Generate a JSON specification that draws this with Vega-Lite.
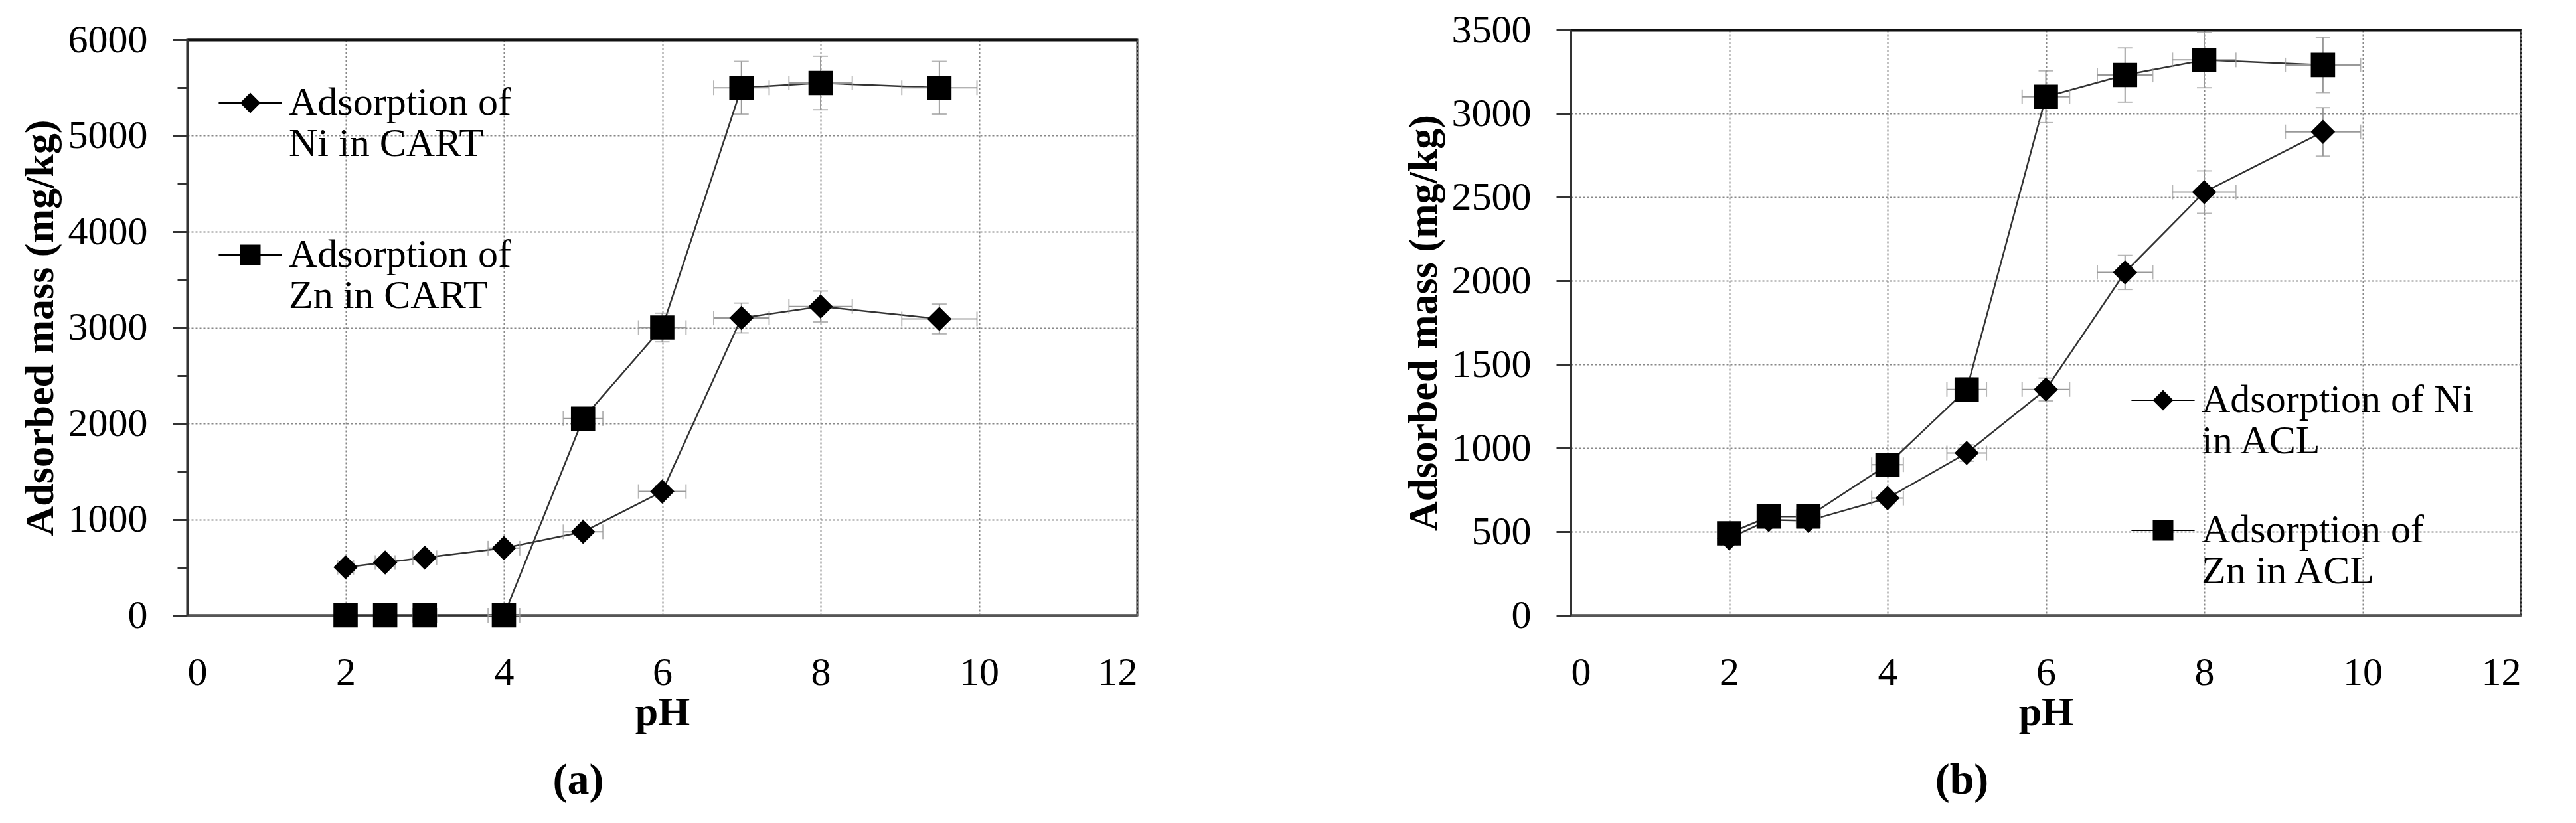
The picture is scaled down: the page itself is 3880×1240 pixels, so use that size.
{
  "$schema": "https://vega.github.io/schema/vega-lite/v6.json",
  "background": "white",
  "padding": {"left": 27, "top": 13, "right": 0, "bottom": 0},
  "spacing": 396,
  "resolve": {"scale": {"shape": "independent"}, "legend": {"shape": "independent"}},
  "config": {
    "font": "Liberation Serif",
    "view": {"stroke": "#222", "strokeWidth": 3},
    "axis": {"labelFont": "Liberation Serif", "titleFont": "Liberation Serif", "labelColor": "black", "titleColor": "black", "labelFontSize": 60, "titleFontSize": 62, "titleFontWeight": "bold"},
    "legend": {"labelFont": "Liberation Serif", "labelColor": "black"}
  },
  "datasets": {
    "a": [
      {"series": "Ni", "pH": 2, "v": 500, "vlo": 475, "vhi": 525, "plo": 1.9, "phi": 2.1},
      {"series": "Ni", "pH": 2.5, "v": 550, "vlo": 522, "vhi": 578, "plo": 2.375, "phi": 2.625},
      {"series": "Ni", "pH": 3, "v": 600, "vlo": 570, "vhi": 630, "plo": 2.85, "phi": 3.15},
      {"series": "Ni", "pH": 4, "v": 700, "vlo": 665, "vhi": 735, "plo": 3.8, "phi": 4.2},
      {"series": "Ni", "pH": 5, "v": 870, "vlo": 826, "vhi": 914, "plo": 4.75, "phi": 5.25},
      {"series": "Ni", "pH": 6, "v": 1290, "vlo": 1225, "vhi": 1355, "plo": 5.7, "phi": 6.3},
      {"series": "Ni", "pH": 7, "v": 3100, "vlo": 2945, "vhi": 3255, "plo": 6.65, "phi": 7.35},
      {"series": "Ni", "pH": 8, "v": 3220, "vlo": 3059, "vhi": 3381, "plo": 7.6, "phi": 8.4},
      {"series": "Ni", "pH": 9.5, "v": 3090, "vlo": 2935, "vhi": 3245, "plo": 9.025, "phi": 9.975},
      {"series": "Zn", "pH": 2, "v": 0, "vlo": 0, "vhi": 0, "plo": 1.9, "phi": 2.1},
      {"series": "Zn", "pH": 2.5, "v": 0, "vlo": 0, "vhi": 0, "plo": 2.375, "phi": 2.625},
      {"series": "Zn", "pH": 3, "v": 0, "vlo": 0, "vhi": 0, "plo": 2.85, "phi": 3.15},
      {"series": "Zn", "pH": 4, "v": 0, "vlo": 0, "vhi": 0, "plo": 3.8, "phi": 4.2},
      {"series": "Zn", "pH": 5, "v": 2050, "vlo": 1948, "vhi": 2152, "plo": 4.75, "phi": 5.25},
      {"series": "Zn", "pH": 6, "v": 3000, "vlo": 2850, "vhi": 3150, "plo": 5.7, "phi": 6.3},
      {"series": "Zn", "pH": 7, "v": 5500, "vlo": 5225, "vhi": 5775, "plo": 6.65, "phi": 7.35},
      {"series": "Zn", "pH": 8, "v": 5550, "vlo": 5272, "vhi": 5828, "plo": 7.6, "phi": 8.4},
      {"series": "Zn", "pH": 9.5, "v": 5500, "vlo": 5225, "vhi": 5775, "plo": 9.025, "phi": 9.975}
    ],
    "b": [
      {"series": "Ni", "pH": 2, "v": 460, "vlo": 437, "vhi": 483, "plo": 1.9, "phi": 2.1},
      {"series": "Ni", "pH": 2.5, "v": 570, "vlo": 541, "vhi": 599, "plo": 2.375, "phi": 2.625},
      {"series": "Ni", "pH": 3, "v": 565, "vlo": 537, "vhi": 593, "plo": 2.85, "phi": 3.15},
      {"series": "Ni", "pH": 4, "v": 700, "vlo": 665, "vhi": 735, "plo": 3.8, "phi": 4.2},
      {"series": "Ni", "pH": 5, "v": 970, "vlo": 921, "vhi": 1019, "plo": 4.75, "phi": 5.25},
      {"series": "Ni", "pH": 6, "v": 1350, "vlo": 1282, "vhi": 1418, "plo": 5.7, "phi": 6.3},
      {"series": "Ni", "pH": 7, "v": 2050, "vlo": 1948, "vhi": 2152, "plo": 6.65, "phi": 7.35},
      {"series": "Ni", "pH": 8, "v": 2530, "vlo": 2403, "vhi": 2657, "plo": 7.6, "phi": 8.4},
      {"series": "Ni", "pH": 9.5, "v": 2890, "vlo": 2745, "vhi": 3035, "plo": 9.025, "phi": 9.975},
      {"series": "Zn", "pH": 2, "v": 490, "vlo": 465, "vhi": 515, "plo": 1.9, "phi": 2.1},
      {"series": "Zn", "pH": 2.5, "v": 590, "vlo": 560, "vhi": 620, "plo": 2.375, "phi": 2.625},
      {"series": "Zn", "pH": 3, "v": 590, "vlo": 560, "vhi": 620, "plo": 2.85, "phi": 3.15},
      {"series": "Zn", "pH": 4, "v": 900, "vlo": 855, "vhi": 945, "plo": 3.8, "phi": 4.2},
      {"series": "Zn", "pH": 5, "v": 1350, "vlo": 1282, "vhi": 1418, "plo": 4.75, "phi": 5.25},
      {"series": "Zn", "pH": 6, "v": 3100, "vlo": 2945, "vhi": 3255, "plo": 5.7, "phi": 6.3},
      {"series": "Zn", "pH": 7, "v": 3230, "vlo": 3068, "vhi": 3392, "plo": 6.65, "phi": 7.35},
      {"series": "Zn", "pH": 8, "v": 3320, "vlo": 3154, "vhi": 3486, "plo": 7.6, "phi": 8.4},
      {"series": "Zn", "pH": 9.5, "v": 3290, "vlo": 3125, "vhi": 3455, "plo": 9.025, "phi": 9.975}
    ]
  },
  "hconcat": [
    {
      "vconcat": [
        {
          "width": 1431,
          "height": 1,
          "data": {"values": [{"k": 1}]},
          "mark": {"type": "point", "opacity": 0},
          "view": {"stroke": null}
        },
        {
          "width": 1431,
          "height": 867,
          "data": {"name": "a"},
          "title": {"text": "(a)", "orient": "bottom", "anchor": "middle", "frame": "bounds", "fontSize": 66, "fontWeight": "bold", "font": "Liberation Serif", "color": "black", "offset": 40},
          "resolve": {"axis": {"x": "independent"}},
          "layer": [
            {
              "mark": {"type": "line", "color": "#333", "strokeWidth": 2.5},
              "encoding": {
                "x": {"field": "pH", "type": "quantitative", "scale": {"domain": [0, 12], "nice": false},
                      "axis": {"orient": "top", "domain": true, "domainColor": "#111", "domainWidth": 4, "ticks": false, "labels": false, "grid": false, "title": null}},
                "y": {"field": "v", "type": "quantitative", "scale": {"domain": [0, 6000], "nice": false}, "title": "Adsorbed mass (mg/kg)"},
                "detail": {"field": "series"}
              }
            },
            {
              "mark": {"type": "errorbar", "color": "#999", "thickness": 2, "ticks": {"size": 22, "thickness": 2, "color": "#999"}},
              "encoding": {
                "x": {"field": "pH", "type": "quantitative", "scale": {"domain": [0, 12], "nice": false}, "axis": null},
                "y": {"field": "vlo", "type": "quantitative", "scale": {"domain": [0, 6000], "nice": false}, "title": "Adsorbed mass (mg/kg)"},
                "y2": {"field": "vhi"}
              }
            },
            {
              "mark": {"type": "errorbar", "color": "#999", "thickness": 2, "ticks": {"size": 22, "thickness": 2, "color": "#999"}},
              "encoding": {
                "x": {"field": "plo", "type": "quantitative", "scale": {"domain": [0, 12], "nice": false}, "axis": null},
                "x2": {"field": "phi"},
                "y": {"field": "v", "type": "quantitative", "scale": {"domain": [0, 6000], "nice": false}, "title": "Adsorbed mass (mg/kg)"}
              }
            },
            {
              "transform": [{"filter": "false"}],
              "mark": {"type": "point", "filled": true, "opacity": 1, "color": "black"},
              "encoding": {
                "x": {"field": "pH", "type": "quantitative", "scale": {"domain": [0, 12], "nice": false}, "axis": null},
                "y": {"field": "v", "type": "quantitative", "scale": {"domain": [0, 6000], "nice": false}, "title": "Adsorbed mass (mg/kg)"},
                "shape": {"field": "series", "type": "nominal",
                          "scale": {"domain": ["Ni", "Zn"], "range": ["M-3.07,-0.07H3.07V0.07H-3.07Z M0,-1L1,0L0,1L-1,0Z", "M-3.07,-0.07H3.07V0.07H-3.07Z M-1,-1H1V1H-1Z"]},
                          "legend": {"orient": "none", "legendX": 65, "legendY": 80, "title": null, "padding": 0,
                                     "symbolSize": 961, "symbolFillColor": "black", "symbolStrokeWidth": 0, "symbolOpacity": 1,
                                     "labelFontSize": 60, "labelLimit": 1000, "labelOffset": 28, "rowPadding": 107,
                                     "labelExpr": "datum.label == 'Ni' ? ['Adsorption of', 'Ni in CART'] : ['Adsorption of', 'Zn in CART']"}}
              }
            },
            {
              "transform": [{"filter": "datum.series == 'Zn'"}],
              "mark": {"type": "point", "shape": "square", "filled": true, "opacity": 1, "color": "black", "size": 1340, "strokeWidth": 0},
              "encoding": {
                "x": {"field": "pH", "type": "quantitative", "scale": {"domain": [0, 12], "nice": false}, "axis": null},
                "y": {"field": "v", "type": "quantitative", "scale": {"domain": [0, 6000], "nice": false}, "title": "Adsorbed mass (mg/kg)"}
              }
            },
            {
              "transform": [{"filter": "datum.series == 'Ni'"}],
              "mark": {"type": "point", "shape": "diamond", "filled": true, "opacity": 1, "color": "black", "size": 1340, "strokeWidth": 0},
              "encoding": {
                "x": {"field": "pH", "type": "quantitative", "scale": {"domain": [0, 12], "nice": false},
                      "axis": {"orient": "bottom", "values": [0, 2, 4, 6, 8, 10, 12], "grid": true, "gridDash": [3, 3], "gridColor": "#888", "gridWidth": 2, "domainColor": "#555", "domainWidth": 4, "ticks": false, "labelPadding": 57, "title": "pH", "titlePadding": 0}},
                "y": {"field": "v", "type": "quantitative", "scale": {"domain": [0, 6000], "nice": false}, "title": "Adsorbed mass (mg/kg)",
                      "axis": {"values": [0, 500, 1000, 1500, 2000, 2500, 3000, 3500, 4000, 4500, 5000, 5500, 6000],
                               "format": "d",
                               "labelExpr": "datum.value % 1000 === 0 ? datum.label : ''",
                               "grid": true, "gridDash": [3, 3], "gridColor": "#888", "gridWidth": 2,
                               "gridOpacity": {"condition": {"test": "datum.value % 1000 === 0", "value": 1}, "value": 0},
                               "tickSize": {"condition": {"test": "datum.value % 1000 === 0", "value": 22}, "value": 15},
                               "tickWidth": 3, "tickColor": "#333",
                               "domainColor": "#333", "domainWidth": 3, "labelPadding": 38, "titlePadding": 10}}
              }
            }
          ]
        }
      ],
      "spacing": 14,
      "bounds": "flush"
    },
    {
      "width": 1431,
      "height": 882,
      "data": {"name": "b"},
      "title": {"text": "(b)", "orient": "bottom", "anchor": "middle", "frame": "bounds", "fontSize": 66, "fontWeight": "bold", "font": "Liberation Serif", "color": "black", "offset": 40},
      "resolve": {"axis": {"x": "independent"}},
      "layer": [
        {
          "mark": {"type": "line", "color": "#333", "strokeWidth": 2.5},
          "encoding": {
            "x": {"field": "pH", "type": "quantitative", "scale": {"domain": [0, 12], "nice": false},
                  "axis": {"orient": "top", "domain": true, "domainColor": "#111", "domainWidth": 4, "ticks": false, "labels": false, "grid": false, "title": null}},
            "y": {"field": "v", "type": "quantitative", "scale": {"domain": [0, 3500], "nice": false}, "title": "Adsorbed mass (mg/kg)"},
            "detail": {"field": "series"}
          }
        },
        {
          "mark": {"type": "errorbar", "color": "#999", "thickness": 2, "ticks": {"size": 22, "thickness": 2, "color": "#999"}},
          "encoding": {
            "x": {"field": "pH", "type": "quantitative", "scale": {"domain": [0, 12], "nice": false}, "axis": null},
            "y": {"field": "vlo", "type": "quantitative", "scale": {"domain": [0, 3500], "nice": false}, "title": "Adsorbed mass (mg/kg)"},
            "y2": {"field": "vhi"}
          }
        },
        {
          "mark": {"type": "errorbar", "color": "#999", "thickness": 2, "ticks": {"size": 22, "thickness": 2, "color": "#999"}},
          "encoding": {
            "x": {"field": "plo", "type": "quantitative", "scale": {"domain": [0, 12], "nice": false}, "axis": null},
            "x2": {"field": "phi"},
            "y": {"field": "v", "type": "quantitative", "scale": {"domain": [0, 3500], "nice": false}, "title": "Adsorbed mass (mg/kg)"}
          }
        },
        {
          "transform": [{"filter": "false"}],
          "mark": {"type": "point", "filled": true, "opacity": 1, "color": "black"},
          "encoding": {
            "x": {"field": "pH", "type": "quantitative", "scale": {"domain": [0, 12], "nice": false}, "axis": null},
            "y": {"field": "v", "type": "quantitative", "scale": {"domain": [0, 3500], "nice": false}, "title": "Adsorbed mass (mg/kg)"},
            "shape": {"field": "series", "type": "nominal",
                      "scale": {"domain": ["Ni", "Zn"], "range": ["M-3.07,-0.07H3.07V0.07H-3.07Z M0,-1L1,0L0,1L-1,0Z", "M-3.07,-0.07H3.07V0.07H-3.07Z M-1,-1H1V1H-1Z"]},
                      "legend": {"orient": "none", "legendX": 862, "legendY": 528, "title": null, "padding": 0,
                                 "symbolSize": 961, "symbolFillColor": "black", "symbolStrokeWidth": 0, "symbolOpacity": 1,
                                 "labelFontSize": 60, "labelLimit": 1000, "labelOffset": 28, "rowPadding": 74,
                                 "labelExpr": "datum.label == 'Ni' ? ['Adsorption of Ni', 'in ACL'] : ['Adsorption of', 'Zn in ACL']"}}
          }
        },
        {
          "transform": [{"filter": "datum.series == 'Zn'"}],
          "mark": {"type": "point", "shape": "square", "filled": true, "opacity": 1, "color": "black", "size": 1340, "strokeWidth": 0},
          "encoding": {
            "x": {"field": "pH", "type": "quantitative", "scale": {"domain": [0, 12], "nice": false}, "axis": null},
            "y": {"field": "v", "type": "quantitative", "scale": {"domain": [0, 3500], "nice": false}, "title": "Adsorbed mass (mg/kg)"}
          }
        },
        {
          "transform": [{"filter": "datum.series == 'Ni'"}],
          "mark": {"type": "point", "shape": "diamond", "filled": true, "opacity": 1, "color": "black", "size": 1340, "strokeWidth": 0},
          "encoding": {
            "x": {"field": "pH", "type": "quantitative", "scale": {"domain": [0, 12], "nice": false},
                  "axis": {"orient": "bottom", "values": [0, 2, 4, 6, 8, 10, 12], "grid": true, "gridDash": [3, 3], "gridColor": "#888", "gridWidth": 2, "domainColor": "#555", "domainWidth": 4, "ticks": false, "labelPadding": 57, "title": "pH", "titlePadding": 0}},
            "y": {"field": "v", "type": "quantitative", "scale": {"domain": [0, 3500], "nice": false}, "title": "Adsorbed mass (mg/kg)",
                  "axis": {"values": [0, 500, 1000, 1500, 2000, 2500, 3000, 3500],
                           "format": "d",
                           "grid": true, "gridDash": [3, 3], "gridColor": "#888", "gridWidth": 2,
                           "tickSize": 22, "tickWidth": 3, "tickColor": "#333",
                           "domainColor": "#333", "domainWidth": 3, "labelPadding": 38, "titlePadding": 10}}
          }
        }
      ]
    }
  ]
}
